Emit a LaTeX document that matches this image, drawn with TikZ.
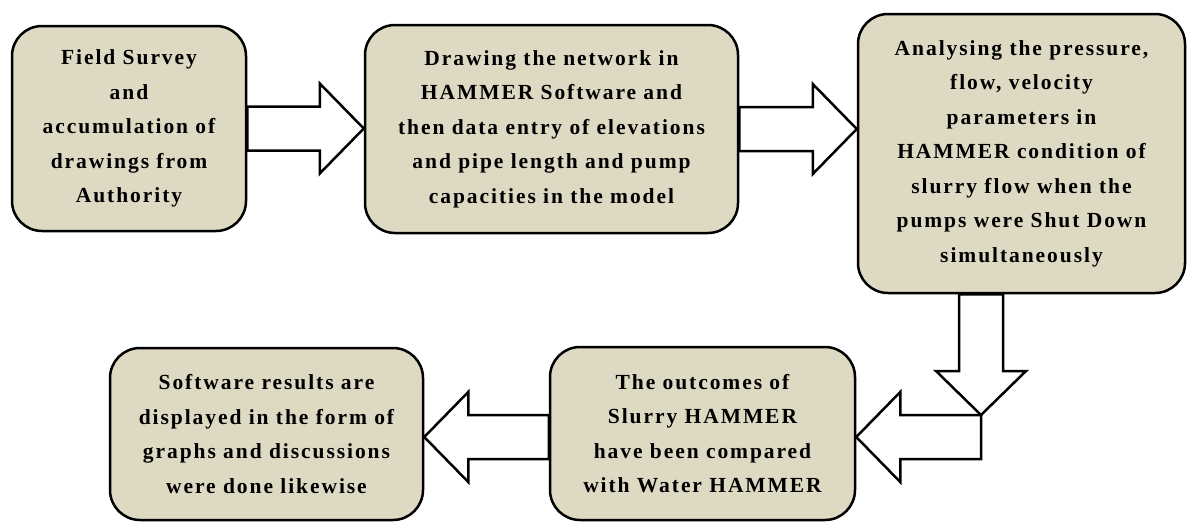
\documentclass[tikz,border=0pt]{standalone}
\usepackage{fontspec}
\setmainfont{Liberation Serif}[LetterSpace=9]
\usetikzlibrary{calc,backgrounds}
\definecolor{boxfill}{RGB}{221,217,195}

% hollow block arrow from #1 to #2
\newcommand{\blockarrow}[2]{%
  \path (#2) coordinate (tip) ($(#2)!44pt!(#1)$) coordinate (back);
  \draw[barrow] ($(#1)!22pt!90:(#2)$) -- ($(back)!22pt!90:(tip)$)
     -- ($(back)!45pt!90:(tip)$) -- (tip) -- ($(back)!45pt!-90:(tip)$)
     -- ($(back)!22pt!-90:(tip)$) -- ($(#1)!22pt!-90:(#2)$) -- cycle;
}

\begin{document}
\begin{tikzpicture}
   [
    x=1pt, y=-1pt,
    stage/.style={rectangle, rounded corners=30pt, draw=black,
                  line width=2.5pt, fill=boxfill, align=center,
                  inner sep=0pt,
                  font=\bfseries\fontsize{21.5}{34.5}\selectfont},
    barrow/.style={draw=black, fill=white, line width=2.5pt,
                   line join=miter}
    ]
\useasboundingbox (0,0) rectangle (1192,522);

% top row
\node[stage, minimum width=234pt, minimum height=205pt] (survey) at (129,128.5)
  {Field Survey\\ and\\ accumulation of\\ drawings from\\ Authority};
\node[stage, minimum width=373pt, minimum height=208pt] (drawing) at (551.5,129)
  {Drawing the network in\\ HAMMER Software and\\ then data entry of elevations\\
   and pipe length and pump\\ capacities in the model};
\node[stage, minimum width=327pt, minimum height=279pt] (analyse) at (1021.5,153.5)
  {Analysing the pressure,\\ flow, velocity\\ parameters in\\ HAMMER condition of\\
   slurry flow when the\\ pumps were Shut Down\\ simultaneously};

% bottom row
\node[stage, minimum width=305pt, minimum height=173pt] (compare) at (702.5,433.5)
  {The outcomes of\\ Slurry HAMMER\\ have been compared\\ with Water HAMMER};
\node[stage, minimum width=313pt, minimum height=172pt] (results) at (266.5,434)
  {Software results are\\ displayed in the form of\\ graphs and discussions\\ were done likewise};

% arrow ends
\coordinate (turn) at (981,437);
\coordinate (a1s) at (survey.east);
\coordinate (a1e) at (drawing.west |- survey.east);
\coordinate (a2s) at (drawing.east);
\coordinate (a2e) at (analyse.west |- drawing.east);
\coordinate (a3s) at (analyse.south -| turn);
\coordinate (a3e) at ($(turn)+(0,-22)$);
\coordinate (a4e) at (compare.east |- turn);
\coordinate (a5s) at (compare.west |- turn);
\coordinate (a5e) at (results.east |- turn);

\begin{scope}[on background layer]
  \blockarrow{a1s}{a1e}
  \blockarrow{a2s}{a2e}
  \blockarrow{a3s}{a3e}
  \blockarrow{turn}{a4e}
  \blockarrow{a5s}{a5e}
\end{scope}

\end{tikzpicture}
\end{document}
